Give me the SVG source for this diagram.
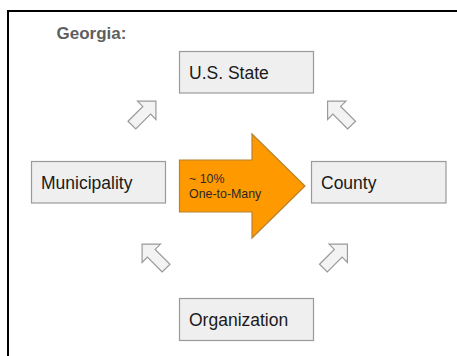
<svg xmlns="http://www.w3.org/2000/svg" width="457" height="356" viewBox="0 0 457 356">
  <defs>
    <style>
      .box { fill: #efefef; stroke: #9a9a9a; stroke-width: 1.2; }
      .label { font-family: "Liberation Sans", Arial, sans-serif; font-size: 17.5px; fill: #1a1a1a; }
      .hollow { fill: #f3f3f3; stroke: #9a9a9a; stroke-width: 1.2; stroke-linejoin: miter; }
      .big { fill: #ff9900; stroke: #b8822e; stroke-width: 1.2; }
      .small { font-family: "Liberation Sans", Arial, sans-serif; font-size: 12.4px; fill: #2a2a2a; }
    </style>
    <!-- block arrow pointing along +x, centred on the origin -->
    <polygon id="blockArrow" points="-17,-5.5 4,-5.5 4,-13 17,0 4,13 4,5.5 -17,5.5"/>
  </defs>

  <rect width="457" height="356" fill="#ffffff"/>
  <!-- outer frame -->
  <rect x="8" y="11" width="460" height="360" fill="none" stroke="#000000" stroke-width="2"/>

  <text x="56.5" y="39" font-family="Liberation Sans, Arial, sans-serif" font-size="17px" font-weight="bold" fill="#5f5f5f">Georgia:</text>

  <g id="connectors">
    <use href="#blockArrow" class="hollow" transform="translate(143.9,113.1) rotate(-45)"/>
    <use href="#blockArrow" class="hollow" transform="translate(339.6,113.1) rotate(-135)"/>
    <use href="#blockArrow" class="hollow" transform="translate(154.1,256.1) rotate(-135)"/>
    <use href="#blockArrow" class="hollow" transform="translate(335.4,256.1) rotate(-45)"/>
    <g id="one-to-many">
      <polygon class="big" points="179.5,160 252,160 252,134 305,186 252,238 252,212 179.5,212"/>
      <text class="small" x="189" y="183">~ 10%</text>
      <text class="small" x="189" y="197.5">One-to-Many</text>
    </g>
  </g>

  <g id="state">
    <rect class="box" x="179.5" y="51.5" width="134" height="41.5"/>
    <text class="label" x="189" y="79">U.S. State</text>
  </g>
  <g id="municipality">
    <rect class="box" x="31.5" y="161.5" width="134" height="41.5"/>
    <text class="label" x="41" y="188.5">Municipality</text>
  </g>
  <g id="county">
    <rect class="box" x="311.5" y="161.5" width="134.5" height="41.5"/>
    <text class="label" x="321" y="188.5">County</text>
  </g>
  <g id="organization">
    <rect class="box" x="179.5" y="298.5" width="134" height="42"/>
    <text class="label" x="189" y="326">Organization</text>
  </g>
</svg>
